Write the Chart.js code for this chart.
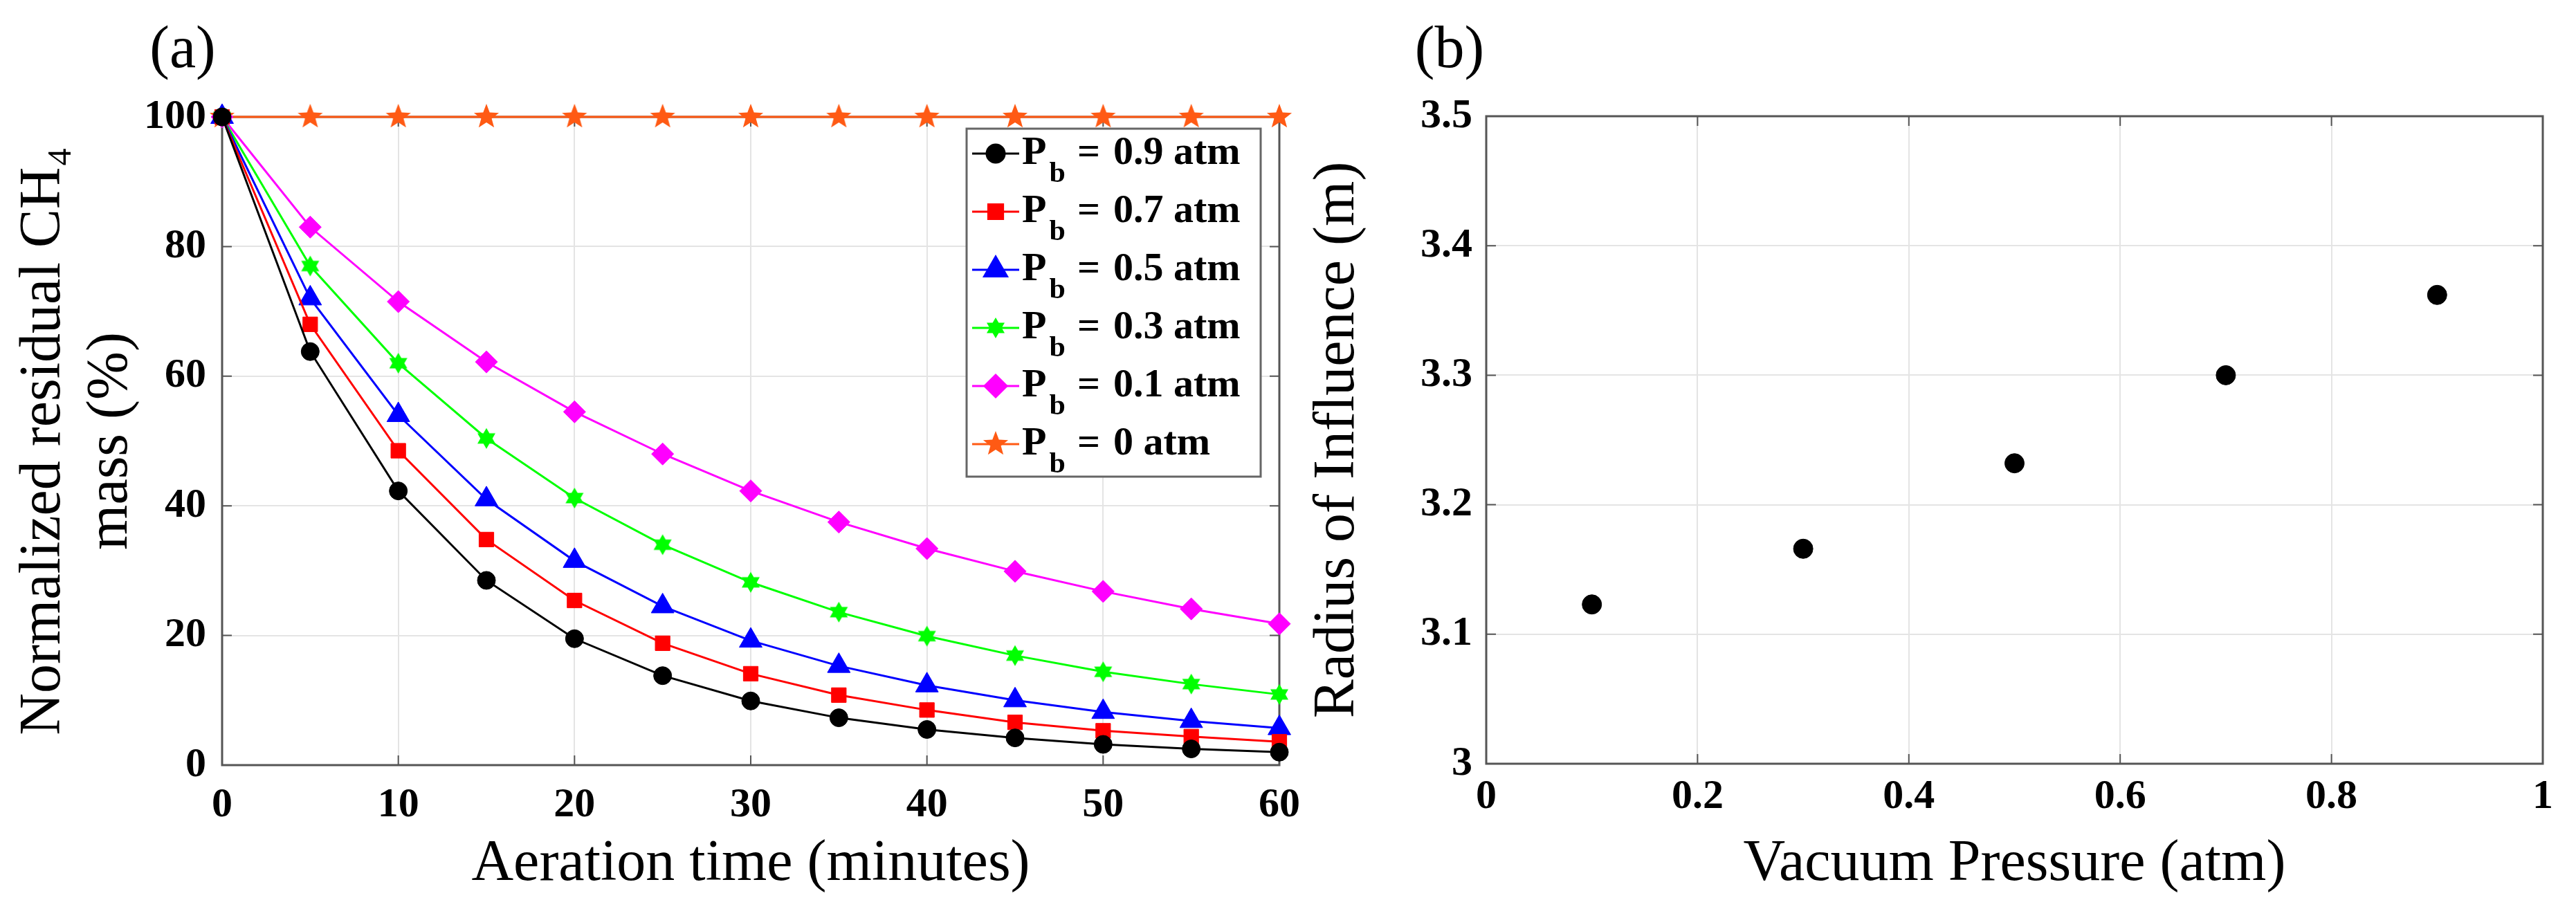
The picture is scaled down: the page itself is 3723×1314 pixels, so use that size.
<!DOCTYPE html>
<html>
<head>
<meta charset="utf-8">
<script src="https://cdn.jsdelivr.net/npm/chart.js@4.4.1/dist/chart.umd.min.js"></script>
<style>
  html, body { margin: 0; padding: 0; background: #fff; }
  body { width: 3723px; height: 1314px; position: relative; overflow: hidden; }
  canvas { position: absolute; top: 0; }
  #chartA { left: 0; }
  #chartB { left: 1880px; }
  .panel { position: absolute; font-family: "Liberation Serif", "DejaVu Serif", serif; font-size: 86px; line-height: 1; transform: translate(-50%, -50%); }
</style>
</head>
<body>
<div class="panel" style="left:264px; top:68px;">(a)</div>
<div class="panel" style="left:2095px; top:68px;">(b)</div>
<!-- left canvas is a bit wider: chart.js reserves half the last tick label plus tick padding on the right -->
<canvas id="chartA" width="1902" height="1314"></canvas>
<canvas id="chartB" width="1843" height="1314"></canvas>
<script>
// ---- data ----
const aerationTimes = [0, 5, 10, 15, 20, 25, 30, 35, 40, 45, 50, 55, 60];
const mass09 = [100, 63.8, 42.3, 28.5, 19.5, 13.8, 9.9, 7.3, 5.5, 4.2, 3.2, 2.5, 2.0];
const mass07 = [100, 68.0, 48.5, 34.8, 25.4, 18.8, 14.1, 10.8, 8.5, 6.6, 5.3, 4.4, 3.6];
const mass05 = [100, 72.0, 54.0, 41.0, 31.5, 24.5, 19.2, 15.3, 12.3, 10.0, 8.2, 6.8, 5.7];
const mass03 = [100, 77.0, 62.0, 50.4, 41.2, 34.0, 28.2, 23.6, 19.9, 16.9, 14.4, 12.5, 10.9];
const mass01 = [100, 83.0, 71.5, 62.2, 54.5, 48.0, 42.3, 37.5, 33.4, 29.9, 26.8, 24.1, 21.8];
const mass00 = [100, 100, 100, 100, 100, 100, 100, 100, 100, 100, 100, 100, 100];
const legendValues = ["0.9 atm", "0.7 atm", "0.5 atm", "0.3 atm", "0.1 atm", "0 atm"];

const vacuumPressure = [0.1, 0.3, 0.5, 0.7, 0.9];
const radiusOfInfluence = [3.123, 3.166, 3.232, 3.300, 3.362];

const SERIF = '"Liberation Serif", "DejaVu Serif", serif';
const FRAME = '#555555';
const GRID = '#e4e4e4';

// filled star markers (MATLAB 'p' and 'h')
function starMarker(points, rOut, rIn, color) {
  const c = document.createElement('canvas');
  const s = Math.ceil(rOut * 2 + 4);
  c.width = s; c.height = s;
  const g = c.getContext('2d');
  g.fillStyle = color;
  g.beginPath();
  for (let i = 0; i < points * 2; i++) {
    const r = i % 2 === 0 ? rOut : rIn;
    const a = -Math.PI / 2 + i * Math.PI / points;
    const px = s / 2 + r * Math.cos(a), py = s / 2 + r * Math.sin(a);
    if (i === 0) g.moveTo(px, py); else g.lineTo(px, py);
  }
  g.closePath();
  g.fill();
  return c;
}
const pentagram = starMarker(5, 19, 8, '#ff5a14');
const hexagram = starMarker(6, 15, 8.7, '#00ff00');

function pts(ys) {
  return aerationTimes.map((t, i) => ({ x: t, y: ys[i] }));
}
function series(label, ys, color, style, radius) {
  return {
    label: label,
    data: pts(ys),
    borderColor: color,
    backgroundColor: color,
    pointBackgroundColor: color,
    pointBorderColor: color,
    pointBorderWidth: 1,
    pointStyle: style,
    pointRadius: radius,
    borderWidth: 3,
    tension: 0,
    clip: false
  };
}

// box around the axes with inward tick marks
const framePlugin = {
  id: 'frame',
  beforeDatasetsDraw(chart) {
    const { ctx, chartArea: a, scales } = chart;
    ctx.save();
    ctx.strokeStyle = FRAME;
    ctx.lineWidth = 3;
    ctx.strokeRect(a.left, a.top, a.right - a.left, a.bottom - a.top);
    ctx.lineWidth = 2;
    ctx.beginPath();
    scales.x.ticks.forEach(t => {
      const px = scales.x.getPixelForValue(t.value);
      ctx.moveTo(px, a.bottom); ctx.lineTo(px, a.bottom - 14);
      ctx.moveTo(px, a.top); ctx.lineTo(px, a.top + 14);
    });
    scales.y.ticks.forEach(t => {
      const py = scales.y.getPixelForValue(t.value);
      ctx.moveTo(a.left, py); ctx.lineTo(a.left + 14, py);
      ctx.moveTo(a.right, py); ctx.lineTo(a.right - 14, py);
    });
    ctx.stroke();
    ctx.restore();
  }
};

// MATLAB style legend with subscript, inside top right
const legendPlugin = {
  id: 'pbLegend',
  afterDatasetsDraw(chart) {
    const { ctx, chartArea: a } = chart;
    const w = 425, h = 503;
    const x0 = a.right - 27 - w, y0 = a.top + 17;
    ctx.save();
    ctx.fillStyle = '#fff';
    ctx.fillRect(x0, y0, w, h);
    ctx.strokeStyle = '#666';
    ctx.lineWidth = 3;
    ctx.strokeRect(x0, y0, w, h);
    chart.data.datasets.forEach((ds, i) => {
      const y = y0 + 36 + i * 84;
      ctx.strokeStyle = ds.borderColor;
      ctx.lineWidth = 3;
      ctx.beginPath();
      ctx.moveTo(x0 + 8, y); ctx.lineTo(x0 + 76, y);
      ctx.stroke();
      ctx.fillStyle = ds.pointBackgroundColor;
      ctx.strokeStyle = ds.pointBorderColor;
      Chart.helpers.drawPoint(ctx, { pointStyle: ds.pointStyle, radius: ds.pointRadius, rotation: 0, borderWidth: 1 }, x0 + 42, y);
      ctx.fillStyle = '#000';
      ctx.textBaseline = 'middle';
      ctx.textAlign = 'left';
      ctx.font = 'bold 58px ' + SERIF;
      ctx.fillText('P', x0 + 80, y);
      const pw = ctx.measureText('P').width;
      ctx.font = 'bold 42px ' + SERIF;
      ctx.fillText('b', x0 + 80 + pw + 4, y + 30);
      ctx.font = 'bold 58px ' + SERIF;
      ctx.fillText('=', x0 + 160, y);
      ctx.fillText(legendValues[i], x0 + 212, y);
    });
    ctx.restore();
  }
};

function axisTitle(text, padding) {
  return { display: true, text: text, color: '#000', padding: padding, font: { family: SERIF, size: 84, lineHeight: 1.15 } };
}
function tickFont() {
  return { family: SERIF, size: 60, weight: 'bold' };
}
// MATLAB prints 3 and 1, not 3.0 and 1.0
function plainTick(v) {
  return String(Math.round(v * 100) / 100);
}

new Chart(document.getElementById('chartA'), {
  type: 'line',
  data: {
    datasets: [
      series('Pb = 0.9 atm', mass09, '#000000', 'circle', 13),
      series('Pb = 0.7 atm', mass07, '#ff0000', 'rect', 15),
      series('Pb = 0.5 atm', mass05, '#0000ff', 'triangle', 19),
      series('Pb = 0.3 atm', mass03, '#00ff00', hexagram, 15),
      series('Pb = 0.1 atm', mass01, '#ff00ff', 'rectRot', 16),
      series('Pb = 0 atm', mass00, '#ff5a14', pentagram, 19)
    ]
  },
  options: {
    responsive: false,
    animation: false,
    layout: { autoPadding: false, padding: { left: 0, top: 169, right: 53, bottom: 0 } },
    plugins: { legend: { display: false }, tooltip: { enabled: false } },
    scales: {
      x: {
        type: 'linear', min: 0, max: 60,
        grid: { color: GRID, lineWidth: 2, drawTicks: false },
        border: { display: false },
        ticks: { stepSize: 10, color: '#000', font: tickFont(), padding: 22, maxRotation: 0 },
        title: axisTitle('Aeration time (minutes)', { top: 0, bottom: 16 }),
        afterFit: s => { s.height = 208; }
      },
      y: {
        type: 'linear', min: 0, max: 100,
        grid: { color: GRID, lineWidth: 2, drawTicks: false },
        border: { display: false },
        ticks: { stepSize: 20, color: '#000', font: tickFont(), padding: 23 },
        title: axisTitle(['Normalized residual CH\u2084', 'mass (%)'], { top: 16, bottom: 0 }),
        afterFit: s => { s.width = 321; }
      }
    }
  },
  plugins: [framePlugin, legendPlugin]
});

new Chart(document.getElementById('chartB'), {
  type: 'scatter',
  data: {
    datasets: [{
      label: 'Radius of Influence',
      data: vacuumPressure.map((p, i) => ({ x: p, y: radiusOfInfluence[i] })),
      backgroundColor: '#000',
      borderColor: '#000',
      pointRadius: 14,
      clip: false
    }]
  },
  options: {
    responsive: false,
    animation: false,
    layout: { autoPadding: false, padding: { left: 0, top: 168, right: 48, bottom: 0 } },
    plugins: { legend: { display: false }, tooltip: { enabled: false } },
    scales: {
      x: {
        type: 'linear', min: 0, max: 1,
        grid: { color: GRID, lineWidth: 2, drawTicks: false },
        border: { display: false },
        ticks: { stepSize: 0.2, color: '#000', font: tickFont(), padding: 12, maxRotation: 0, callback: plainTick },
        title: axisTitle('Vacuum Pressure (atm)', { top: 0, bottom: 16 }),
        afterFit: s => { s.height = 210; }
      },
      y: {
        type: 'linear', min: 3, max: 3.5,
        grid: { color: GRID, lineWidth: 2, drawTicks: false },
        border: { display: false },
        ticks: { stepSize: 0.1, color: '#000', font: tickFont(), padding: 20, callback: plainTick },
        title: axisTitle('Radius of Influence (m)', { top: 6, bottom: 0 }),
        afterFit: s => { s.width = 268; }
      }
    }
  },
  plugins: [framePlugin]
});
</script>
</body>
</html>
